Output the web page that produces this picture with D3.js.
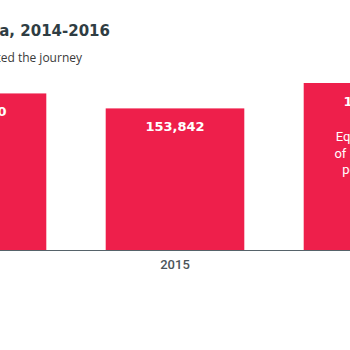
<!DOCTYPE html>
<html>
<head>
<meta charset="utf-8">
<script src="https://cdn.jsdelivr.net/npm/d3@7"></script>
<style>
  html, body { margin: 0; padding: 0; background: #fff; overflow: hidden; }
  svg { display: block; }
</style>
</head>
<body>
<svg id="chart" width="350" height="350"></svg>
<script>
const years = ["2014", "2015", "2016"];
const arrivals = [170100, 153842, 181436];
const notes = [[], [], ["Equivalent to", "of Italy's total", "population"]];
const titleText = "Sea arrivals to Italy via Libya, 2014-2016";
const subtitleText = "Number of migrants who completed the journey";

const svg = d3.select("#chart");
const barColor = "#ee1f4b";

// title & subtitle (the original chart is wider than the 350px viewport)
svg.append("text")
  .attr("x", 110).attr("y", 36)
  .attr("text-anchor", "end")
  .attr("font-family", "DejaVu Sans")
  .attr("font-weight", "bold")
  .attr("font-size", 15)
  .attr("fill", "#2f3d43")
  .text(titleText);

svg.append("text")
  .attr("x", 82).attr("y", 62)
  .attr("text-anchor", "end")
  .attr("font-family", "Open Sans")
  .attr("font-size", 12)
  .attr("fill", "#3a3a3a")
  .text(subtitleText);

const g = svg.append("g").attr("transform", "translate(-122,0)");
const x = d3.scaleBand().domain(years).range([0, 594]).paddingInner(0.3).paddingOuter(0.15);
const y = d3.scaleLinear().domain([0, 181436]).range([250, 83]);

g.selectAll("rect.bar").data(years).join("rect")
  .attr("class", "bar")
  .attr("x", d => x(d))
  .attr("width", x.bandwidth())
  .attr("y", (d, i) => y(arrivals[i]))
  .attr("height", (d, i) => y(0) - y(arrivals[i]))
  .attr("fill", barColor);

g.selectAll("text.val").data(years).join("text")
  .attr("class", "val")
  .attr("x", d => x(d) + x.bandwidth() / 2)
  .attr("y", (d, i) => y(arrivals[i]) + 23)
  .attr("text-anchor", "middle")
  .attr("font-family", "DejaVu Sans")
  .attr("font-weight", "bold")
  .attr("font-size", 13)
  .attr("fill", "#fff")
  .text((d, i) => d3.format(",")(arrivals[i]));

years.forEach((yr, i) => {
  notes[i].forEach((line, j) => {
    g.append("text")
      .attr("x", x(yr) + x.bandwidth() / 2)
      .attr("y", y(arrivals[i]) + 58 + j * 16.5)
      .attr("text-anchor", "middle")
      .attr("font-family", "Roboto")
      .attr("font-size", 13)
      .attr("fill", "#fff")
      .text(line);
  });
});

const axis = g.append("g")
  .attr("transform", "translate(0,250)")
  .call(d3.axisBottom(x).tickSize(0).tickPadding(10));
axis.select(".domain").attr("stroke", "#56636a").attr("stroke-width", 1.2);
axis.selectAll("text")
  .attr("font-family", "Roboto")
  .attr("font-weight", 500)
  .attr("font-size", 13)
  .attr("fill", "#4b555a");
</script>
</body>
</html>
